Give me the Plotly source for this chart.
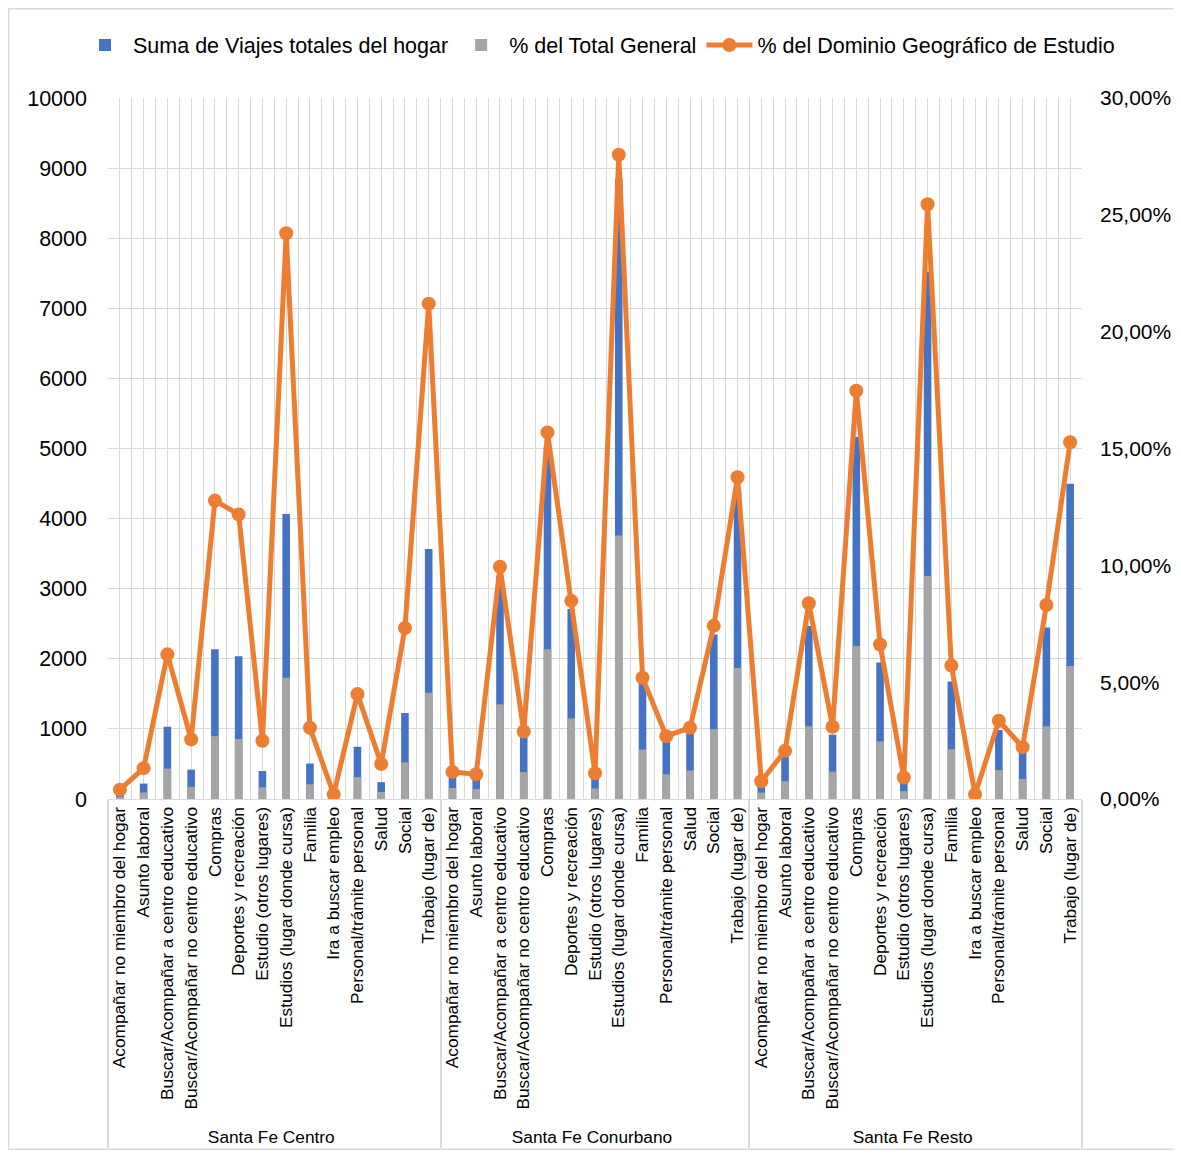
import plotly.graph_objects as go

# ---------------- data ----------------
dominios = ["Santa Fe Centro", "Santa Fe Conurbano", "Santa Fe Resto"]

motivos_centro = [
    "Acompañar no miembro del hogar", "Asunto laboral",
    "Buscar/Acompañar a centro educativo", "Buscar/Acompañar no centro educativo",
    "Compras", "Deportes y recreación", "Estudio (otros lugares)",
    "Estudios (lugar donde cursa)", "Familia", "Ira a buscar empleo",
    "Personal/trámite personal", "Salud", "Social", "Trabajo (lugar de)",
]
motivos_conurbano = [
    "Acompañar no miembro del hogar", "Asunto laboral",
    "Buscar/Acompañar a centro educativo", "Buscar/Acompañar no centro educativo",
    "Compras", "Deportes y recreación", "Estudio (otros lugares)",
    "Estudios (lugar donde cursa)", "Familia",
    "Personal/trámite personal", "Salud", "Social", "Trabajo (lugar de)",
]
motivos_resto = [
    "Acompañar no miembro del hogar", "Asunto laboral",
    "Buscar/Acompañar a centro educativo", "Buscar/Acompañar no centro educativo",
    "Compras", "Deportes y recreación", "Estudio (otros lugares)",
    "Estudios (lugar donde cursa)", "Familia", "Ira a buscar empleo",
    "Personal/trámite personal", "Salud", "Social", "Trabajo (lugar de)",
]

# Suma de Viajes totales del hogar
viajes_centro = [67, 220, 1031, 419, 2136, 2036, 399, 4065, 506, 30, 745, 240, 1227, 3566]
viajes_conurbano = [370, 340, 3180, 900, 5020, 2710, 350, 8840, 1660, 830, 960, 2345, 4400]
viajes_resto = [220, 600, 2468, 918, 5163, 1949, 270, 7520, 1677, 45, 985, 685, 2448, 4498]

# % del Total General (in %)
pct_total_centro = [0.09, 0.28, 1.30, 0.52, 2.69, 2.57, 0.50, 5.19, 0.63, 0.04, 0.94, 0.30, 1.57, 4.55]
pct_total_conurbano = [0.47, 0.43, 4.05, 1.15, 6.41, 3.45, 0.45, 11.28, 2.12, 1.06, 1.22, 2.99, 5.61]
pct_total_resto = [0.28, 0.76, 3.11, 1.17, 6.55, 2.46, 0.34, 9.54, 2.13, 0.06, 1.24, 0.86, 3.11, 5.69]

# % del Dominio Geográfico de Estudio (in %)
pct_dom_centro = [0.40, 1.32, 6.19, 2.55, 12.77, 12.18, 2.49, 24.21, 3.05, 0.20, 4.49, 1.50, 7.32, 21.20]
pct_dom_conurbano = [1.16, 1.06, 9.94, 2.89, 15.69, 8.48, 1.10, 27.57, 5.19, 2.69, 3.05, 7.41, 13.77]
pct_dom_resto = [0.76, 2.06, 8.38, 3.09, 17.47, 6.61, 0.92, 25.45, 5.71, 0.20, 3.35, 2.22, 8.30, 15.27]

left_ticks = list(range(0, 10001, 1000))
right_ticks = [0, 5, 10, 15, 20, 25, 30]

# ---------------- build ----------------
motivos_by_dom = [motivos_centro, motivos_conurbano, motivos_resto]
grp, mot = [], []
for d, ms in zip(dominios, motivos_by_dom):
    grp += [d] * len(ms)
    mot += ms
viajes = viajes_centro + viajes_conurbano + viajes_resto
pct_total = [v / 100 for v in pct_total_centro + pct_total_conurbano + pct_total_resto]
pct_dom = [v / 100 for v in pct_dom_centro + pct_dom_conurbano + pct_dom_resto]
flat_keys = [f"{g}|{m}" for g, m in zip(grp, mot)]

BLUE = "#4472C4"
GREY = "#A5A5A5"
ORANGE = "#ED7D31"
GRID = "#D9D9D9"
FONT = "Liberation Sans"

W, H = 1165, 1142          # page adds an 8px body margin on each side
L, T = 100, 90
PW, PH = 974, 701
R, B = W - L - PW, H - T - PH

fig = go.Figure()
fig.add_trace(go.Bar(
    x=[grp, mot], y=viajes, name="Suma de Viajes totales del hogar",
    marker=dict(color=BLUE, line=dict(width=0)), width=0.32,
    xaxis="x", yaxis="y",
))
fig.add_trace(go.Bar(
    x=[grp, mot], y=pct_total, name="% del Total General",
    marker=dict(color=GREY, line=dict(width=0)), width=0.32,
    xaxis="x", yaxis="y2",
))
fig.add_trace(go.Scatter(
    x=flat_keys, y=pct_dom, name="% del Dominio Geográfico de Estudio",
    mode="lines+markers",
    line=dict(color=ORANGE, width=5),
    marker=dict(color=ORANGE, size=14),
    xaxis="x2", yaxis="y2",
))

n = len(flat_keys)
fig.update_layout(
    width=W, height=H,
    margin=dict(l=L, r=R, t=T, b=B, autoexpand=False),
    paper_bgcolor="white", plot_bgcolor="white",
    separators=",.",
    font=dict(family=FONT, size=17, color="#000000"),
    barmode="overlay",
    showlegend=True,
    legend=dict(orientation="h", x=(69 - L) / PW, xanchor="left",
                y=1 + (T - 37) / PH, yanchor="middle",
                yref="paper", xref="paper", bgcolor="rgba(0,0,0,0)",
                font=dict(size=21.5, family=FONT),
                itemwidth=46, traceorder="normal", tracegroupgap=0),
    xaxis=dict(
        type="multicategory", showgrid=True, gridcolor=GRID, gridwidth=1.2,
        tickangle=-90, tickfont=dict(size=17.3, family=FONT),
        showline=True, linecolor=GRID, linewidth=1.2,
        showdividers=True, dividercolor=GRID, dividerwidth=1.5,
        ticks="", zeroline=False, automargin=False,
    ),
    xaxis2=dict(
        type="category", overlaying="x", categoryarray=flat_keys,
        categoryorder="array", range=[-0.5, n - 0.5],
        showgrid=True, gridcolor=GRID, gridwidth=1.2,
        showticklabels=False, ticks="", showline=False, zeroline=False,
        automargin=False,
    ),
    yaxis=dict(
        range=[0, 10000], tickvals=left_ticks, tickformat="d",
        showgrid=True, gridcolor=GRID, gridwidth=1.2, zeroline=False,
        tickfont=dict(size=21.5, family=FONT), ticks="", showline=False,
        ticklabelstandoff=20, automargin=False,
    ),
    yaxis2=dict(
        overlaying="y", side="right", range=[0, 0.30],
        tickvals=[t / 100 for t in right_ticks], tickformat=".2%",
        showgrid=False, zeroline=False,
        tickfont=dict(size=21, family=FONT), ticks="", showline=False,
        ticklabelstandoff=17, automargin=False,
    ),
    shapes=[dict(type="rect", xref="paper", yref="paper",
                 x0=(0.7 - L) / PW, x1=(W + 20 - L) / PW,
                 y0=(H - B - (H - 0.7)) / PH, y1=(H - B - 0.7) / PH,
                 line=dict(color=GRID, width=1.4), layer="below")],
)

fig.write_html("out.html")
